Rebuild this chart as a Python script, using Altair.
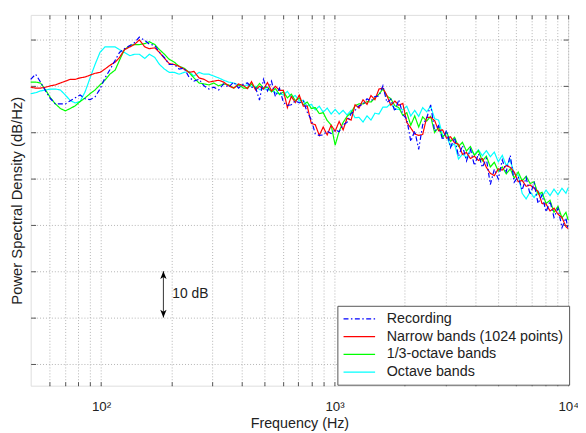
import altair as alt
import pandas as pd

FONT = "Liberation Sans"

# ---------------- data ----------------
freq = [50, 52.5, 55.1, 57.9, 60.8, 63.8, 67.0, 70.4, 73.9, 77.6, 81.4, 85.5, 89.8, 94.3, 99.0,
        104, 109, 115, 120, 126, 133, 139, 146, 154, 161, 170, 178, 187, 196, 206, 216, 227,
        238, 250, 263, 276, 290, 304, 319, 335, 352, 370, 388, 408,
        424, 441, 459, 477, 496, 516, 537, 558, 581, 604, 628, 653, 679, 706, 735, 764, 795,
        827, 860, 894, 930, 967, 1006, 1046, 1088, 1131, 1177, 1224, 1273, 1324, 1377, 1432,
        1489, 1549, 1611, 1675, 1742, 1812, 1884, 1960, 2038, 2120, 2204, 2292, 2384, 2480,
        2579, 2682, 2789, 2901, 3017, 3138, 3263, 3394, 3529, 3671, 3817, 3970, 4129, 4294,
        4466, 4644, 4830, 5023, 5224, 5433, 5651, 5877, 6112, 6356, 6610, 6875, 7150, 7436,
        7733, 8043, 8364, 8699, 9047, 9409, 9785, 10000]

recording = [-18.6, -17.5, -19.2, -21.1, -22.8, -23.9, -23.9, -23.9, -23.2, -22.6, -22.0, -22.8,
             -23.0, -22.4, -20.7, -18.3, -16.6, -14.5, -12.8, -12.0, -11.3, -10.7, -9.5, -10.2,
             -11.0, -11.3, -12.8, -13.9, -15.4, -15.4, -16.4, -16.2, -18.1, -19.0, -18.6, -20.0,
             -20.7, -20.3, -20.9, -19.6, -20.3, -19.2, -20.5, -19.6,
             -19.4, -20.3, -20.4, -23.1, -18.6, -21.1, -19.0, -22.3, -20.5, -23.6,
             -24.2, -24.1, -23.2, -23.7, -23.3, -25.7, -27.3, -30.4, -30.7, -30.6,
             -29.8, -30.3, -29.5, -29.9, -28.4, -27.9, -26.0, -25.3, -24.3, -24.0,
             -22.8, -23.3, -22.3, -22.2, -20.0, -23.6, -22.9, -25.5, -23.0, -26.2,
             -27.2, -32.0, -29.7, -33.7, -28.4, -27.0, -24.1, -29.8, -28.6, -31.7,
             -29.6, -33.3, -31.2, -35.2, -32.9, -36.2, -33.7, -37.2, -34.7, -37.6,
             -35.7, -41.3, -38.0, -40.1, -36.0, -38.5, -35.0, -40.8, -39.6, -42.5,
             -39.8, -43.5, -41.0, -45.4, -43.5, -47.2, -44.9, -48.4, -46.4, -50.6,
             -48.5, -51.1]

narrow = [-20.3, -20.5, -20.5, -20.3, -20.0, -19.8, -19.4, -19.0, -18.6, -18.6, -18.3, -18.1,
          -17.7, -17.3, -17.1, -16.4, -15.6, -14.9, -13.9, -12.2, -11.6, -11.1, -10.1, -11.6,
          -12.0, -11.8, -12.8, -14.1, -15.2, -15.4, -15.8, -16.4, -17.1, -16.9, -18.3, -18.6,
          -19.2, -19.0, -18.8, -19.2, -20.0, -20.5, -19.6, -20.0,
          -20.6, -19.1, -20.9, -20.1, -20.7, -19.3, -21.1, -20.1, -21.0, -21.0,
          -24.7, -22.3, -23.6, -22.0, -24.4, -24.4, -28.1, -28.4, -30.7, -28.9,
          -30.6, -28.5, -29.8, -27.7, -29.5, -27.0, -27.4, -24.1, -24.8, -23.0,
          -24.0, -22.1, -23.0, -20.7, -20.5, -22.1, -24.2, -23.3, -24.2, -23.8,
          -27.9, -29.1, -30.4, -30.7, -30.5, -26.8, -26.8, -27.5, -29.7, -29.5,
          -31.3, -31.0, -32.3, -32.6, -34.8, -34.4, -35.7, -35.2, -36.1, -35.7,
          -37.6, -38.9, -39.4, -37.9, -38.2, -37.2, -37.6, -38.6, -40.7, -40.4,
          -41.7, -41.4, -42.1, -42.8, -45.4, -45.5, -47.0, -46.4, -47.7, -48.4,
          -50.4, -50.8]

third_octave = [-19.2, -19.2, -19.4, -20.9, -22.6, -23.9, -24.9, -25.4, -24.9, -24.3, -23.4, -22.6,
                -21.7, -20.9, -19.8, -18.8, -17.5, -16.6, -14.5, -12.2, -11.3, -11.1, -11.1, -10.9,
                -10.5, -11.1, -12.2, -13.2, -14.3, -14.9, -15.8, -16.2, -17.1, -18.3, -19.4, -19.6,
                -19.8, -19.4, -20.0, -19.6, -19.8, -20.5, -19.8, -20.5,
                -20.5, -19.6, -20.6, -19.5, -20.5, -20.3, -21.3, -20.6, -21.9, -21.3,
                -22.6, -21.8, -23.2, -22.6, -24.1, -23.5, -24.9, -24.7, -26.0, -25.8,
                -27.5, -28.5, -32.8, -29.8, -27.9, -26.6, -25.8, -24.3, -23.9, -23.9,
                -23.4, -23.5, -22.6, -21.8, -20.7, -22.2, -22.8, -24.3, -24.7, -26.4,
                -25.8, -28.5, -26.5, -28.9, -26.7, -27.6, -26.6, -30.1, -28.9, -31.1,
                -30.0, -32.0, -31.1, -33.1, -32.2, -34.1, -33.1, -35.0, -34.0, -36.2,
                -35.2, -37.5, -36.5, -38.4, -37.5, -39.0, -37.9, -39.9, -38.6, -40.5,
                -39.5, -41.1, -40.7, -43.4, -43.0, -45.4, -44.7, -47.3, -46.0, -48.5,
                -47.3, -49.0]

octave = [-21.7, -21.5, -21.1, -20.9, -20.7, -20.7, -20.9, -22.0, -23.2, -23.7, -23.4, -21.3,
          -18.3, -15.4, -12.8, -11.6, -11.6, -11.6, -12.2, -12.8, -13.5, -13.2, -13.2, -14.1,
          -13.2, -13.9, -15.4, -16.4, -17.1, -17.1, -17.5, -17.1, -16.9, -17.9, -17.1, -17.5,
          -17.5, -17.9, -18.3, -18.8, -19.2, -19.4, -19.8, -20.0,
          -19.8, -20.1, -20.1, -20.8, -20.6, -20.8, -21.0, -21.5, -21.7, -22.0,
          -21.2, -22.5, -22.1, -23.3, -23.1, -24.4, -24.0, -25.2, -24.4, -25.7,
          -24.8, -26.1, -25.1, -26.1, -25.3, -26.3, -25.3, -26.9, -26.8, -27.8,
          -26.5, -27.4, -25.9, -26.1, -24.6, -24.6, -23.8, -25.0, -25.1, -25.2,
          -24.4, -26.5, -25.3, -26.6, -24.7, -25.6, -24.4, -27.1, -27.4, -30.7,
          -30.8, -33.1, -32.5, -35.8, -34.7, -35.5, -33.8, -34.9, -33.8, -35.1,
          -34.0, -35.3, -34.3, -36.4, -35.0, -37.2, -36.0, -39.0, -39.3, -43.2,
          -44.4, -42.9, -44.1, -42.7, -43.9, -42.5, -43.7, -42.3, -43.5, -42.1,
          -43.2, -42.0]

series_names = ["Recording", "Narrow bands (1024 points)", "1/3-octave bands", "Octave bands"]
series_colors = ["#0000ff", "#ff0000", "#00ff00", "#00ffff"]
series_dash = [[5, 2.5, 1.5, 2.5], [1, 0], [1, 0], [1, 0]]
series_values = [recording, narrow, third_octave, octave]

x_ticks = [60, 70, 80, 90, 100, 200, 300, 400, 500, 600, 700, 800, 900,
           1000, 2000, 3000, 4000, 5000, 6000, 7000, 8000, 9000, 10000]
x_labels = {100: "10²", 1000: "10³", 10000: "10⁴"}
y_ticks = [-80, -70, -60, -50, -40, -30, -20, -10]

arrow_freq = [185]
arrow_top = [-60]
arrow_bottom = [-70]
arrow_text = ["10 dB"]

# ---------------- build ----------------
frames = {name: pd.DataFrame({"freq": freq, "psd": vals, "series": name})
          for name, vals in zip(series_names, series_values)}

xs = alt.Scale(type="log", domain=[50, 10000], nice=False)
ys = alt.Scale(domain=[-84.7, -4.7], nice=False, zero=False)

label_expr = "".join(f"datum.value == {k} ? '{v}' : " for k, v in x_labels.items()) + "''"

GRID = "#b4b4b4"
TICK = "#555555"
TXT = "#222222"

x_axis_main = alt.Axis(orient="bottom", values=x_ticks, labelExpr=label_expr, grid=True,
                       gridColor=GRID, gridDash=[1, 2], gridWidth=1, domain=False,
                       tickSize=4, tickColor=TICK, offset=-4, labelPadding=14,
                       labelFont=FONT, labelFontSize=13.5, labelColor=TXT,
                       labelOverlap=False, labelFlush=False, titleFont=FONT,
                       titleFontSize=14.5, titleFontWeight="normal", titleColor=TXT,
                       titlePadding=4)
y_axis_main = alt.Axis(orient="left", values=y_ticks, labels=False, grid=True,
                       gridColor=GRID, gridDash=[1, 2], gridWidth=1, domain=False,
                       tickSize=5, tickColor=TICK, offset=-5, minExtent=0,
                       titleFont=FONT, titleFontSize=15, titleFontWeight="normal",
                       titleColor=TXT, titlePadding=6)
x_axis_top = alt.Axis(orient="top", values=x_ticks, labels=False, grid=False, domain=False,
                      tickSize=4, tickColor=TICK, offset=-4, minExtent=0)
y_axis_right = alt.Axis(orient="right", values=y_ticks, labels=False, grid=False, domain=False,
                        tickSize=5, tickColor=TICK, offset=-5, minExtent=0)

legend = alt.Legend(title=None, orient="none", legendX=311, legendY=295, direction="vertical",
                    symbolType="M-4,0H4", symbolSize=64, symbolStrokeWidth=1.5,
                    symbolOffset=9, labelOffset=20.5, labelFont=FONT, labelFontSize=14.5,
                    labelColor=TXT, labelLimit=400, padding=6, rowPadding=3,
                    strokeColor="#555555", fillColor="white", cornerRadius=0)

color = alt.Color("series:N", scale=alt.Scale(domain=series_names, range=series_colors),
                  legend=legend)
dash = alt.StrokeDash("series:N", scale=alt.Scale(domain=series_names, range=series_dash),
                      legend=legend)

layers = []
draw_order = ["Octave bands", "1/3-octave bands", "Narrow bands (1024 points)", "Recording"]
for i, name in enumerate(draw_order):
    if i == 0:
        xenc = alt.X("freq:Q", scale=xs, axis=x_axis_main, title="Frequency (Hz)")
        yenc = alt.Y("psd:Q", scale=ys, axis=y_axis_main, title="Power Spectral Density (dB/Hz)")
    else:
        xenc = alt.X("freq:Q", scale=xs, axis=None)
        yenc = alt.Y("psd:Q", scale=ys, axis=None)
    layers.append(
        alt.Chart(frames[name]).mark_line(strokeWidth=1.2).encode(
            x=xenc, y=yenc, color=color, strokeDash=dash)
    )

arrow_df = pd.DataFrame({"freq": arrow_freq, "top": arrow_top, "bottom": arrow_bottom,
                         "mid": [(a + b) / 2 for a, b in zip(arrow_top, arrow_bottom)],
                         "label": arrow_text})

rule = alt.Chart(arrow_df).mark_rule(color="#333333", strokeWidth=1).encode(
    x=alt.X("freq:Q", scale=xs, axis=x_axis_top, title=None),
    y=alt.Y("top:Q", scale=ys, axis=y_axis_right, title=None),
    y2="bottom:Q",
)
head_up = alt.Chart(arrow_df).mark_point(
    shape="M0,-1L0.8,1L0,0.45L-0.8,1Z", filled=True, size=64, color="black", opacity=1,
    yOffset=4).encode(
    x=alt.X("freq:Q", scale=xs, axis=None),
    y=alt.Y("top:Q", scale=ys, axis=None),
)
head_down = alt.Chart(arrow_df).mark_point(
    shape="M0,1L0.8,-1L0,-0.45L-0.8,-1Z", filled=True, size=64, color="black", opacity=1,
    yOffset=-4).encode(
    x=alt.X("freq:Q", scale=xs, axis=None),
    y=alt.Y("bottom:Q", scale=ys, axis=None),
)
label = alt.Chart(arrow_df).mark_text(
    align="left", baseline="middle", dx=9, font=FONT, fontSize=14, color=TXT).encode(
    x=alt.X("freq:Q", scale=xs, axis=None),
    y=alt.Y("mid:Q", scale=ys, axis=None),
    text="label:N",
)

chart = alt.layer(*layers, rule, head_up, head_down, label).resolve_axis(
    x="independent", y="independent"
).properties(
    width=545, height=376,
    autosize=alt.AutoSizeParams(type="none"),
    padding={"left": 23, "top": 4, "right": 10, "bottom": 45},
).configure_view(
    stroke="#555555", strokeWidth=1
).configure(background="white")

chart.save("out.html", embed_options={"renderer": "svg", "actions": False})
